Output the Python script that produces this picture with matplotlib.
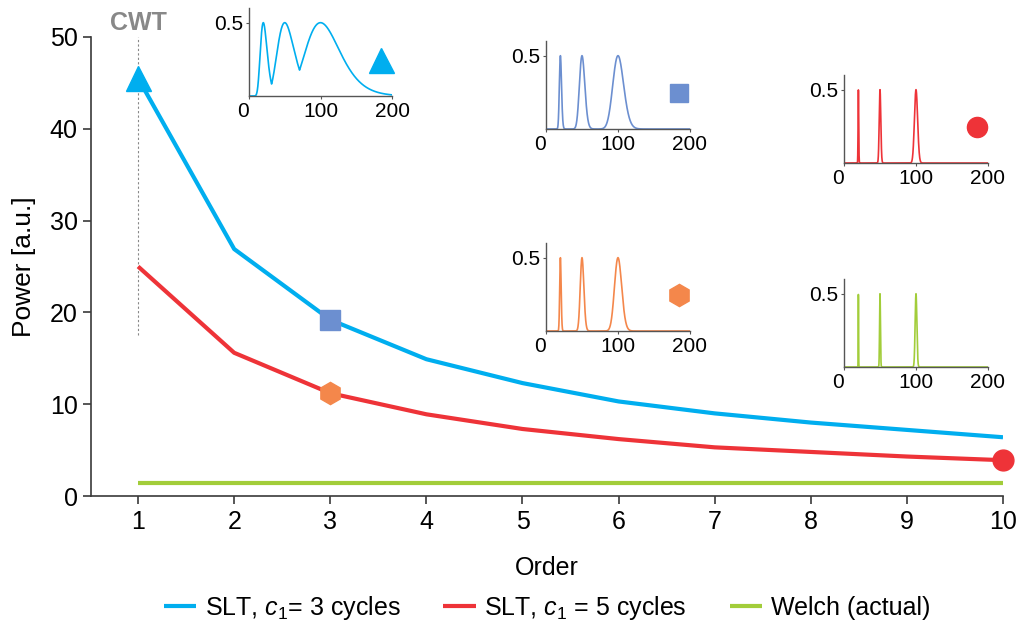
import matplotlib.pyplot as plt
import numpy as np

plt.rcParams['font.family'] = ['Liberation Sans', 'DejaVu Sans']
plt.rcParams['mathtext.fontset'] = 'custom'
plt.rcParams['mathtext.rm'] = 'Liberation Sans'
plt.rcParams['mathtext.it'] = 'Liberation Sans:italic'

# power vs. superlet order
order = np.arange(1, 11)
slt_c3 = [45.5, 26.9, 19.2, 14.9, 12.3, 10.3, 9.0, 8.0, 7.2, 6.4]
slt_c5 = [25.0, 15.6, 11.2, 8.9, 7.3, 6.2, 5.3, 4.8, 4.3, 3.9]
welch_power = 1.4

# spectra in the insets: three test tones, same peak power
peak_freqs = [20, 50, 100]
peak_power = [0.5, 0.5, 0.5]
# relative (log-frequency) peak width of each spectrum
width_cwt = 0.24
width_slt_c3_o3 = 0.075
width_slt_c5_o3 = 0.05
width_slt_c5_o10 = 0.022
width_welch = 0.012

BLUE = '#00aeef'
RED = '#ee3338'
GREEN = '#a2cd3a'
STEEL = '#6c8fd0'
ORANGE = '#f4874b'
AX_COL = '#3a3a3a'

freq = np.linspace(0.5, 200, 1600)


def spectrum(width):
    out = np.zeros_like(freq)
    for f0, p in zip(peak_freqs, peak_power):
        out = np.maximum(out, p * np.exp(-np.log(freq / f0) ** 2 / (2 * width ** 2)))
    return out


W, H = 1018, 627
fig = plt.figure(figsize=(W / 100, H / 100), dpi=100)


def px_axes(left, right, bottom, top):
    return fig.add_axes([left / W, 1 - bottom / H, (right - left) / W, (bottom - top) / H])


ax = px_axes(91, 1003, 496, 37)
ax.plot(order, slt_c3, color=BLUE, lw=3, solid_capstyle='butt', label=r'SLT, $\mathit{c_1}$= 3 cycles')
ax.plot(order, slt_c5, color=RED, lw=3, solid_capstyle='butt', label=r'SLT, $\mathit{c_1}$ = 5 cycles')
ax.plot(order, np.full(len(order), welch_power), color=GREEN, lw=3, solid_capstyle='butt',
        label='Welch (actual)')

# markers tying the curves to the inset spectra
ax.plot(order[0], slt_c3[0], '^', color=BLUE, ms=18, clip_on=False, zorder=5)
ax.plot(order[2], slt_c3[2], 's', color=STEEL, ms=14, zorder=5)
ax.plot(order[2], slt_c5[2], 'h', color=ORANGE, ms=16, zorder=5)
ax.plot(order[9], slt_c5[9], 'o', color=RED, ms=15, clip_on=False, zorder=5)

ax.plot([1, 1], [17.5, 50], color='#888888', lw=0.8, ls=(0, (2, 2)), zorder=1, clip_on=False)
ax.text(1, 50.8, 'CWT', color='#888888', fontsize=18, fontweight='bold', ha='center', va='baseline')

ax.set_xlim(0.51, 10)
ax.set_ylim(0, 50)
ax.set_xticks(order)
ax.set_yticks(np.arange(0, 51, 10))
ax.spines[['top', 'right']].set_visible(False)
for s in ['left', 'bottom']:
    ax.spines[s].set_color(AX_COL)
    ax.spines[s].set_linewidth(1.2)
ax.tick_params(labelsize=18, color=AX_COL, length=6, width=1.2, pad=3.5)
ax.tick_params(axis='x', pad=4)
ax.set_xlabel('Order', fontsize=18, labelpad=16)
ax.set_ylabel('Power [a.u.]', fontsize=19, labelpad=10)

ax.legend(loc='center', bbox_to_anchor=(0.5, -0.244), ncol=3, frameon=False, fontsize=18,
          handlelength=1.3, handletextpad=0.35, columnspacing=1.7)

insets = [
    ((249, 392, 96), width_cwt, BLUE, '^', BLUE, 18),
    ((546, 690, 129), width_slt_c3_o3, STEEL, 's', STEEL, 13),
    ((844, 988, 163), width_slt_c5_o10, RED, 'o', RED, 14.5),
    ((546, 690, 331), width_slt_c5_o3, ORANGE, 'h', ORANGE, 16),
    ((844, 988, 367), width_welch, GREEN, None, None, 0),
]
for (l, r, b), width, col, mk, mcol, ms in insets:
    ia = px_axes(l, r, b, b - 88)
    ia.plot(freq, spectrum(width), color=col, lw=1.2)
    if mk:
        ia.plot(185, 0.245, mk, color=mcol, ms=ms, clip_on=False)
    ia.set_xlim(0, 200)
    ia.set_ylim(0, 0.6)
    ia.set_xticks([0, 100, 200])
    ia.set_xticklabels(['0', '100', '200'])
    ia.get_xticklabels()[0].set_ha('right')
    ia.set_yticks([0.5])
    ia.set_yticklabels(['0.5'])
    ia.spines[['top', 'right']].set_visible(False)
    for s in ['left', 'bottom']:
        ia.spines[s].set_color('#555555')
        ia.spines[s].set_linewidth(1.0)
    ia.tick_params(labelsize=15, length=2, color='#555555', pad=2)
    ia.patch.set_alpha(0)

fig.savefig('out.png', dpi=100)
